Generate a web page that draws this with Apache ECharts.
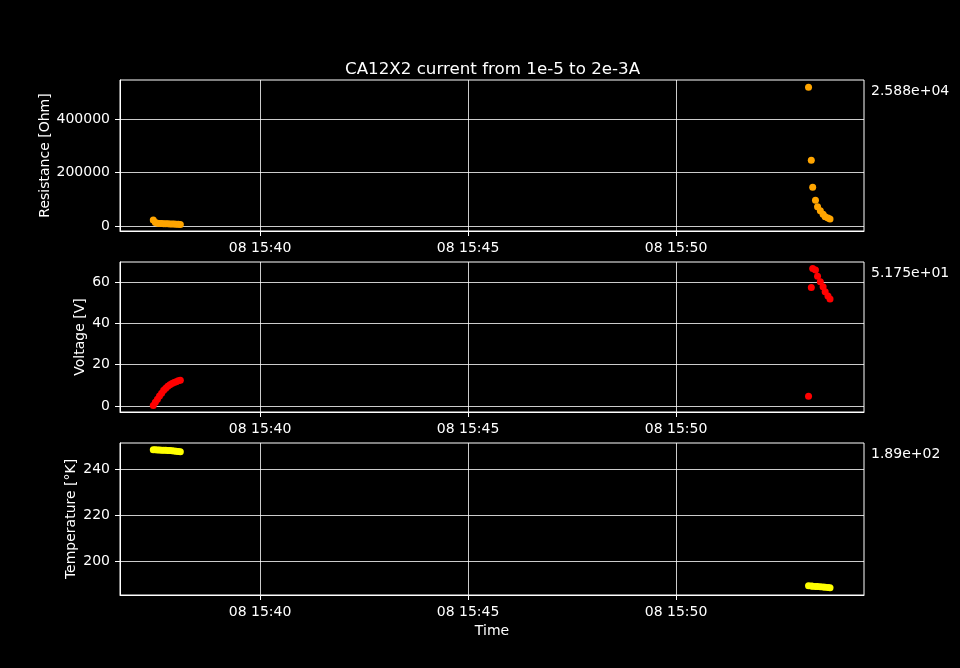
<!DOCTYPE html>
<html>
<head>
<meta charset="utf-8">
<script src="https://cdn.jsdelivr.net/npm/echarts@6/dist/echarts.min.js"></script>
<style>
html,body{margin:0;padding:0;background:#000;}
#chart{width:960px;height:668px;}
</style>
</head>
<body>
<div id="chart"></div>
<script>
// ---- data (day 08, times HH:MM:SS) ----
var title = 'CA12X2 current from 1e-5 to 2e-3A';
var times = [
  '15:37:26','15:37:29','15:37:32','15:37:35','15:37:38','15:37:41','15:37:44',
  '15:37:47','15:37:50','15:37:53','15:37:56','15:37:59','15:38:02','15:38:05',
  '15:53:11','15:53:15','15:53:17','15:53:21','15:53:24','15:53:28','15:53:32',
  '15:53:35','15:53:39','15:53:42'
];
var resistance = [
  22400, 13000, 10500, 9500, 9000, 8500, 8200, 8000, 7800, 7500, 7300, 7000, 6500, 5500,
  518500, 245600, 144700, 96100, 72300, 57000, 44000, 35000, 29500, 25880
];
var voltage = [
  0.2, 1.8, 3.3, 4.8, 6.2, 7.6, 8.6, 9.6, 10.3, 10.9, 11.4, 11.8, 12.2, 12.5,
  4.7, 57.4, 66.6, 65.8, 62.8, 60.2, 57.7, 55.3, 53.2, 51.75
];
var temperature = [
  248.4, 248.4, 248.3, 248.3, 248.2, 248.2, 248.1, 248.0, 248.0, 247.9, 247.8, 247.7, 247.6, 247.5,
  189.2, 189.1, 189.0, 188.9, 188.9, 188.8, 188.7, 188.6, 188.5, 188.4
];
var lastValueLabels = ['2.588e+04', '5.175e+01', '1.89e+02'];
var xTickTimes = ['15:40:00', '15:45:00', '15:50:00'];
var xRange = ['15:36:38', '15:54:31'];
var resTicks = [0, 200000, 400000];
var voltTicks = [0, 20, 40, 60];
var tempTicks = [200, 220, 240];
var resRange = [-18700, 545800];
var voltRange = [-2.9, 69.7];
var tempRange = [185.2, 251.3];
var yNames = ['Resistance [Ohm]', 'Voltage [V]', 'Temperature [°K]'];
var colors = ['#ffa500', '#ff0000', '#ffff00'];

// ---- helpers ----
function toMs(s) {
  var p = s.split(':');
  return Date.UTC(2021, 5, 8, +p[0], +p[1], +p[2]);
}
function pad(n) { return (n < 10 ? '0' : '') + n; }
function fmtTime(v) {
  var d = new Date(v);
  return pad(d.getUTCDate()) + ' ' + pad(d.getUTCHours()) + ':' + pad(d.getUTCMinutes());
}
var tms = times.map(toMs);
function pairs(vals) { return vals.map(function (v, i) { return [tms[i], v]; }); }
var xTicks = xTickTimes.map(toMs);

var FONT = 'DejaVu Sans';
var grids = [
  {left: 120, right: 96, top: 80, height: 151},
  {left: 120, right: 96, top: 262, height: 150},
  {left: 120, right: 96, top: 443, height: 152}
];
grids.forEach(function (g) { g.show = true; g.borderColor = '#ffffff'; g.borderWidth = 1; g.backgroundColor = 'transparent'; });

function xAxis(i) {
  var a = {
    type: 'value', gridIndex: i, min: toMs(xRange[0]), max: toMs(xRange[1]),
    axisLine: {show: true, onZero: false, lineStyle: {color: '#fff', width: 1}},
    axisTick: {show: true, length: 5, lineStyle: {color: '#fff'}, customValues: xTicks},
    axisLabel: {color: '#fff', fontFamily: FONT, fontSize: 14, margin: 10, customValues: xTicks, formatter: fmtTime},
    splitLine: {show: true, lineStyle: {color: '#fff', width: 0.8}}
  };
  if (i === 2) {
    a.name = 'Time'; a.nameLocation = 'middle'; a.nameGap = 29; a.nameMoveOverlap = false;
    a.nameTextStyle = {color: '#fff', fontFamily: FONT, fontSize: 14};
  }
  return a;
}
function yAxis(i, range, ticks, gap) {
  return {
    type: 'value', gridIndex: i, min: range[0], max: range[1],
    name: yNames[i], nameLocation: 'middle', nameGap: gap, nameMoveOverlap: false,
    nameTextStyle: {color: '#fff', fontFamily: FONT, fontSize: 14},
    axisLine: {show: true, onZero: false, lineStyle: {color: '#fff', width: 1}},
    axisTick: {show: true, length: 5, lineStyle: {color: '#fff'}, customValues: ticks},
    axisLabel: {color: '#fff', fontFamily: FONT, fontSize: 14, margin: 10, customValues: ticks,
      formatter: function (v) { return String(v); }},
    splitLine: {show: true, lineStyle: {color: '#fff', width: 0.8}}
  };
}

var option = {
  backgroundColor: '#000000',
  animation: false,
  title: {
    text: title, left: 340, top: 56,
    textStyle: {color: '#fff', fontFamily: FONT, fontSize: 16.7, fontWeight: 'normal'}
  },
  grid: grids,
  xAxis: [xAxis(0), xAxis(1), xAxis(2)],
  yAxis: [
    yAxis(0, resRange, resTicks, 68),
    yAxis(1, voltRange, voltTicks, 33),
    yAxis(2, tempRange, tempTicks, 42)
  ],
  graphic: lastValueLabels.map(function (t, i) {
    return {
      type: 'text', left: 871, top: grids[i].top + 4,
      style: {text: t, fill: '#fff', font: '14px "DejaVu Sans"'}
    };
  }),
  series: [resistance, voltage, temperature].map(function (vals, i) {
    return {
      type: 'scatter', xAxisIndex: i, yAxisIndex: i,
      data: pairs(vals), symbol: 'circle', symbolSize: 7,
      itemStyle: {color: colors[i], opacity: 1}
    };
  })
};

var chart = echarts.init(document.getElementById('chart'), null, {renderer: 'canvas'});
chart.setOption(option);
</script>
</body>
</html>
